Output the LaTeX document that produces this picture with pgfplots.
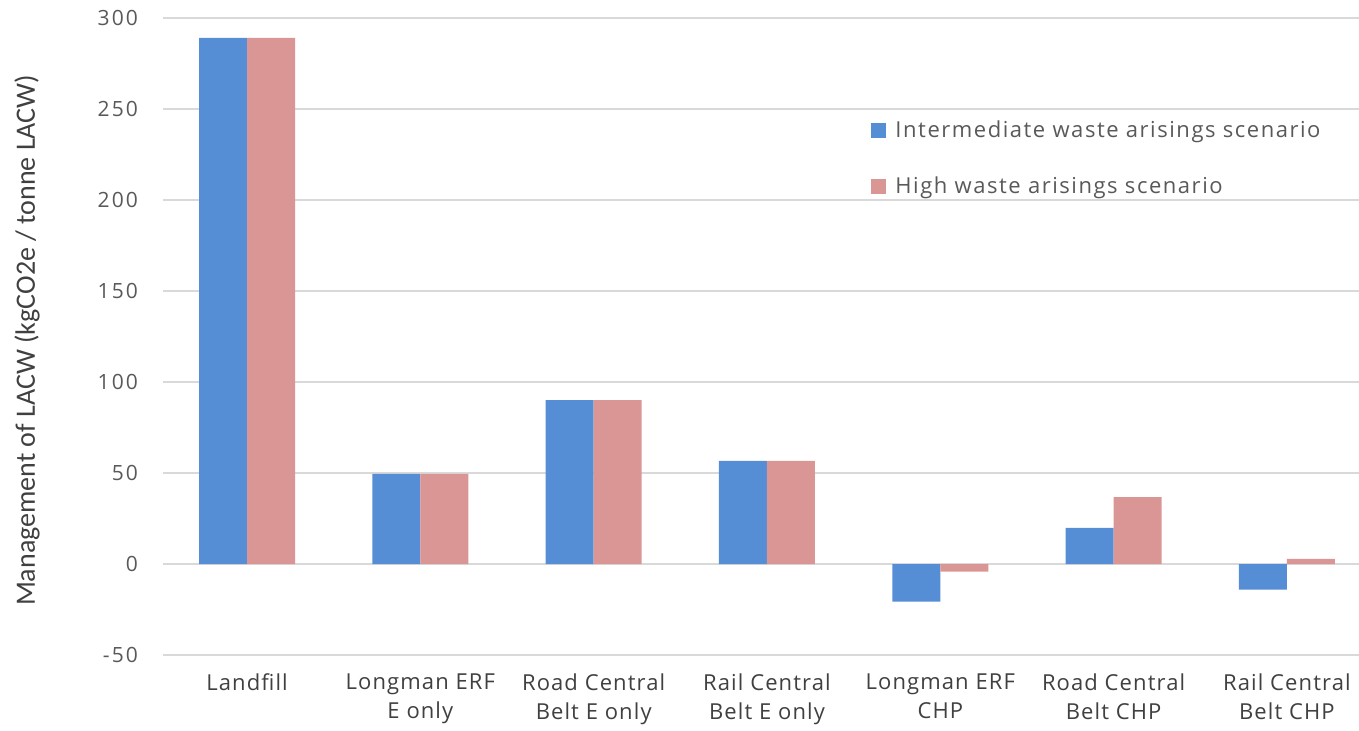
\documentclass[border=0pt]{standalone}
\usepackage{pgfplots}
\pgfplotsset{compat=1.18}
\usepackage{fontspec}
\setmainfont{Open Sans}
\newfontfamily\labelfont{Carlito}
\definecolor{barblue}{RGB}{85,142,213}
\definecolor{barpink}{RGB}{217,150,148}
\definecolor{gridgrey}{RGB}{217,217,217}
\definecolor{textgrey}{RGB}{89,89,89}
\definecolor{labelgrey}{RGB}{64,64,64}

\begin{document}
\begin{tikzpicture}
\begin{axis}[
  at={(0,0)}, anchor=south west,
  scale only axis, width=598pt, height=318.5pt,
  xmin=-0.485, xmax=6.416, ymin=-50, ymax=300,
  ytick={-50,0,...,300},
  xtick={0,...,6},
  xticklabels={Landfill,{Longman ERF\\E only},{Road Central\\Belt E only},{Rail Central\\Belt E only},{Longman ERF\\CHP},{Road Central\\Belt CHP},{Rail Central\\Belt CHP}},
  /pgf/number format/assume math mode=true,
  axis line style={draw=none},
  major tick length=0pt,
  ymajorgrids,
  grid style={gridgrey, line width=0.8pt},
  ybar=0pt, bar width=24pt,
  tick label style={text=textgrey},
  yticklabel style={font=\fontsize{10.5}{12}\selectfont\addfontfeature{LetterSpace=10}, xshift=-9pt},
  xticklabel style={align=center, font=\fontsize{11}{14.5}\selectfont\addfontfeature{LetterSpace=5}, text=labelgrey, yshift=-6pt},
  ylabel={Management of LACW (kgCO2e / tonne LACW)},
  ylabel style={at={(axis description cs:-0.1137,0.494)}, anchor=center,
    font=\labelfont\fontsize{14}{16}\selectfont, text=labelgrey},
  legend style={draw=none, fill=none, at={(rel axis cs:0.587,0.852)}, anchor=north west,
    font=\fontsize{11}{13}\selectfont\addfontfeature{LetterSpace=7}, text=textgrey, row sep=14pt,
    /tikz/every even column/.append style={column sep=0pt}},
  legend cell align=left,
  legend image code/.code={\fill[#1] (0pt,-3.75pt) rectangle (7.5pt,3.75pt);},
]
\addplot[fill=barblue, draw=none] coordinates {
  (0,289.1) (1,49.5) (2,90.1) (3,56.6) (4,-20.7) (5,19.8) (6,-14.1)};
\addlegendentry{\hspace{2.5pt}Intermediate waste arisings scenario}
\addplot[fill=barpink, draw=none] coordinates {
  (0,289.1) (1,49.5) (2,90.1) (3,56.6) (4,-4.2) (5,36.8) (6,2.8)};
\addlegendentry{\hspace{2.5pt}High waste arisings scenario}
\end{axis}
\pgfresetboundingbox
\path (-81.5pt,-37.5pt) rectangle (598pt,327.5pt);
\end{tikzpicture}
\end{document}
